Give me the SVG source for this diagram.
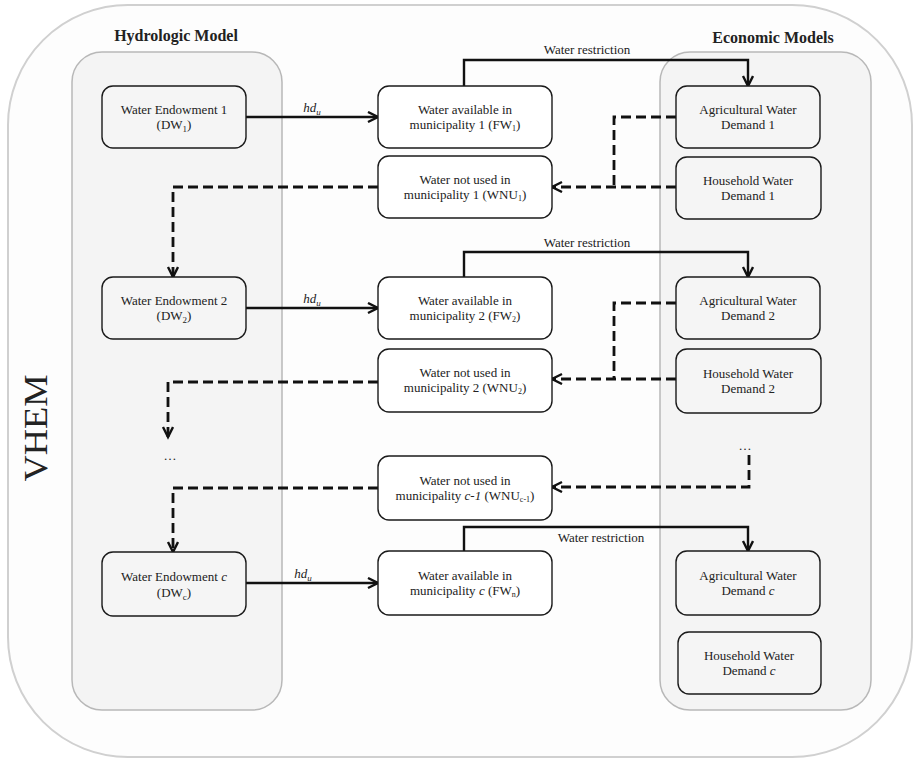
<svg xmlns="http://www.w3.org/2000/svg" width="914" height="759" viewBox="0 0 914 759">
<style>
text{font-family:"Liberation Serif","Times New Roman",serif;fill:#222;}
.t{font-size:13px;text-anchor:middle;}
.ttl{font-size:16px;font-weight:bold;text-anchor:middle;}
.box{stroke:#1a1a1a;stroke-width:1.4;}
.g{fill:#f5f5f5;}
.w{fill:#ffffff;}
.solid{fill:none;stroke:#111;stroke-width:2.4;marker-end:url(#ah);}
.solidn{fill:none;stroke:#111;stroke-width:2.4;}
.dash{fill:none;stroke:#111;stroke-width:2.8;stroke-dasharray:10 5;}
.dasha{fill:none;stroke:#111;stroke-width:2.8;stroke-dasharray:10 5;marker-end:url(#ah);}
</style>
<defs>
<marker id="ah" markerUnits="userSpaceOnUse" markerWidth="14" markerHeight="14" refX="11" refY="6" orient="auto">
<path d="M1,1 L11,6 L1,11" fill="none" stroke="#111" stroke-width="2.4" stroke-dasharray="none"/>
</marker>
</defs>

<g id="vhem">
<rect x="8" y="5" width="904" height="752" rx="120" ry="120" fill="#fdfdfd" stroke="#d0d0d0" stroke-width="2"/>
<text transform="translate(47,428) rotate(-90)" font-size="34" text-anchor="middle" textLength="107" lengthAdjust="spacingAndGlyphs">VHEM</text>
</g>

<g id="hydrologic">
<rect x="72" y="52" width="210" height="658" rx="30" fill="#f4f4f4" stroke="#b8b8b8" stroke-width="1.5"/>
<text class="ttl" x="176" y="41">Hydrologic Model</text>
</g>
<g id="economic">
<rect x="660" y="52" width="211" height="658" rx="30" fill="#f4f4f4" stroke="#b8b8b8" stroke-width="1.5"/>
<text class="ttl" x="773" y="43">Economic Models</text>
</g>

<g id="connectors">
<path class="solid" d="M246,117 H378"/>
<path class="solid" d="M246,308 H378"/>
<path class="solid" d="M246,583 H378"/>
<path class="solid" d="M464,86 V60 H748 V86"/>
<path class="solid" d="M464,277 V252 H748 V277"/>
<path class="solid" d="M464,551 V527 H748 V551"/>
<path class="dash" d="M676,117 H614 V187"/>
<path class="dasha" d="M676,187 H552"/>
<path class="dasha" d="M378,187 H173 V277"/>
<path class="dash" d="M676,303 H614 V379"/>
<path class="dasha" d="M676,379 H552"/>
<path class="dasha" d="M378,382 H168 V437"/>
<path class="dasha" d="M749,455 V487 H552"/>
<path class="dasha" d="M378,488 H173 V552"/>
<text class="t" x="312" y="112"><tspan font-style="italic">hd</tspan><tspan font-style="italic" font-size="9" dy="3">u</tspan></text>
<text class="t" x="312" y="303"><tspan font-style="italic">hd</tspan><tspan font-style="italic" font-size="9" dy="3">u</tspan></text>
<text class="t" x="303" y="578"><tspan font-style="italic">hd</tspan><tspan font-style="italic" font-size="9" dy="3">u</tspan></text>
<text class="t" x="587" y="54" font-size="13.5">Water restriction</text>
<text class="t" x="587" y="247" font-size="13.5">Water restriction</text>
<text class="t" x="601" y="542" font-size="13.5">Water restriction</text>
<text class="t" x="170" y="460">…</text>
<text class="t" x="745" y="450">…</text>
</g>

<g id="we1">
<rect class="box g" x="102" y="86" width="144" height="62" rx="11"/>
<text class="t" x="174" y="114">Water Endowment 1</text>
<text class="t" x="174" y="129">(DW<tspan font-size="9" dy="3">1</tspan><tspan dy="-3">)</tspan></text>
</g>
<g id="we2">
<rect class="box g" x="102" y="277" width="144" height="62" rx="11"/>
<text class="t" x="174" y="305">Water Endowment 2</text>
<text class="t" x="174" y="320">(DW<tspan font-size="9" dy="3">2</tspan><tspan dy="-3">)</tspan></text>
</g>
<g id="wec">
<rect class="box g" x="102" y="552" width="144" height="64" rx="11"/>
<text class="t" x="174" y="581">Water Endowment <tspan font-style="italic">c</tspan></text>
<text class="t" x="174" y="597">(DW<tspan font-size="9" dy="3">c</tspan><tspan dy="-3">)</tspan></text>
</g>

<g id="fw1">
<rect class="box w" x="378" y="86" width="174" height="62" rx="11"/>
<text class="t" x="465" y="114">Water available in</text>
<text class="t" x="465" y="129">municipality 1 (FW<tspan font-size="8" dy="2">1</tspan><tspan dy="-2">)</tspan></text>
</g>
<g id="wnu1">
<rect class="box w" x="378" y="156" width="174" height="62" rx="11"/>
<text class="t" x="465" y="184">Water not used in</text>
<text class="t" x="465" y="199">municipality 1 (WNU<tspan font-size="8" dy="2">1</tspan><tspan dy="-2">)</tspan></text>
</g>
<g id="fw2">
<rect class="box w" x="378" y="277" width="174" height="62" rx="11"/>
<text class="t" x="465" y="305">Water available in</text>
<text class="t" x="465" y="320">municipality 2 (FW<tspan font-size="8" dy="2">2</tspan><tspan dy="-2">)</tspan></text>
</g>
<g id="wnu2">
<rect class="box w" x="378" y="349" width="174" height="63" rx="11"/>
<text class="t" x="465" y="377">Water not used in</text>
<text class="t" x="465" y="392">municipality 2 (WNU<tspan font-size="8" dy="2">2</tspan><tspan dy="-2">)</tspan></text>
</g>
<g id="wnuc1">
<rect class="box w" x="378" y="456" width="174" height="64" rx="11"/>
<text class="t" x="465" y="485">Water not used in</text>
<text class="t" x="465" y="500">municipality  <tspan font-style="italic">c-1</tspan> (WNU<tspan font-size="8" dy="2">c-1</tspan><tspan dy="-2">)</tspan></text>
</g>
<g id="fwc">
<rect class="box w" x="378" y="551" width="174" height="64" rx="11"/>
<text class="t" x="465" y="580">Water available in</text>
<text class="t" x="465" y="595">municipality <tspan font-style="italic">c</tspan> (FW<tspan font-size="8" dy="2">n</tspan><tspan dy="-2">)</tspan></text>
</g>

<g id="agr1">
<rect class="box g" x="676" y="86" width="144" height="62" rx="11"/>
<text class="t" x="748" y="114">Agricultural Water</text>
<text class="t" x="748" y="129">Demand 1</text>
</g>
<g id="hh1">
<rect class="box g" x="676" y="157" width="145" height="62" rx="11"/>
<text class="t" x="748" y="185">Household Water</text>
<text class="t" x="748" y="200">Demand 1</text>
</g>
<g id="agr2">
<rect class="box g" x="676" y="277" width="144" height="62" rx="11"/>
<text class="t" x="748" y="305">Agricultural Water</text>
<text class="t" x="748" y="320">Demand 2</text>
</g>
<g id="hh2">
<rect class="box g" x="676" y="349" width="145" height="64" rx="11"/>
<text class="t" x="748" y="378">Household Water</text>
<text class="t" x="748" y="393">Demand 2</text>
</g>
<g id="agrc">
<rect class="box g" x="676" y="551" width="144" height="64" rx="11"/>
<text class="t" x="748" y="580">Agricultural Water</text>
<text class="t" x="748" y="595">Demand <tspan font-style="italic">c</tspan></text>
</g>
<g id="hhc">
<rect class="box g" x="678" y="632" width="143" height="62" rx="11"/>
<text class="t" x="749" y="660">Household Water</text>
<text class="t" x="749" y="675">Demand <tspan font-style="italic">c</tspan></text>
</g>
</svg>
